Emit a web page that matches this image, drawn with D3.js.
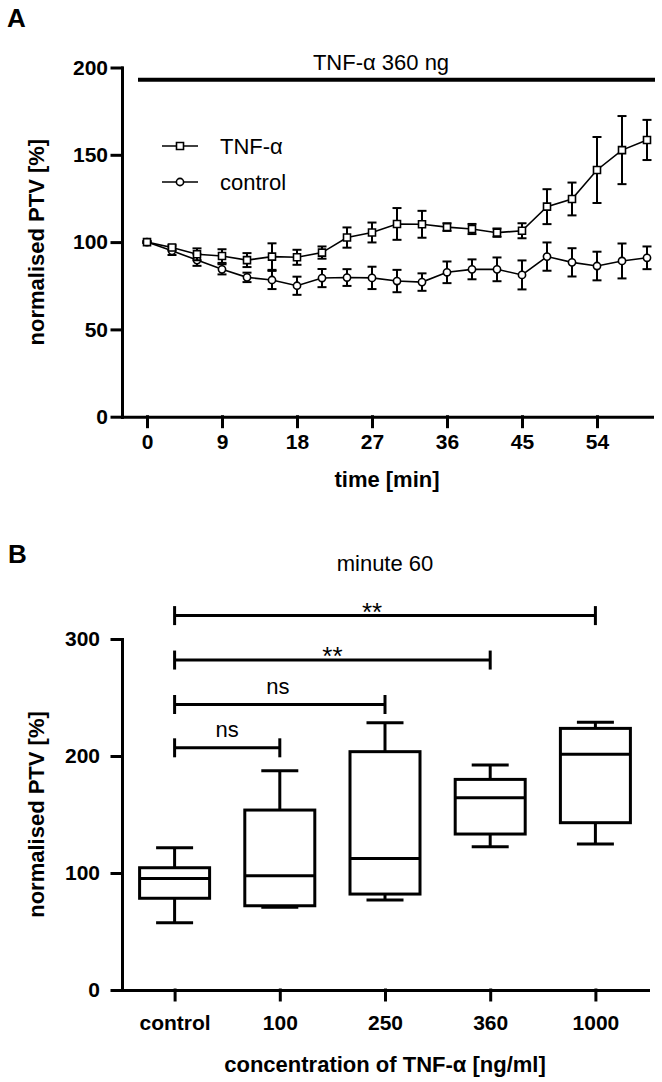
<!DOCTYPE html>
<html>
<head>
<meta charset="utf-8">
<script src="https://cdnjs.cloudflare.com/ajax/libs/d3/7.8.5/d3.min.js"></script>
<style>
body { margin:0; background:#fff; }
svg text { font-family: "Liberation Sans", Arial, Helvetica, sans-serif; fill:#000; }
.axis path, .axis line { stroke:#000; stroke-width:3; stroke-linecap:square; }
.axis text { font-size:21px; font-weight:bold; font-family: "Liberation Sans", Arial, sans-serif; }
</style>
</head>
<body>
<div id="chart"></div>
<script>
// panel A : PTV over time
var minutes = [0, 3, 6, 9, 12, 15, 18, 21, 24, 27, 30, 33, 36, 39, 42, 45, 48, 51, 54, 57, 60];
var tnfMean = [100, 96.9, 93, 92, 89.7, 91.7, 91.3, 94, 102.6, 105.5, 110.4, 110.2, 108.6, 107.5, 105.4, 106.5, 120.3, 124.7, 141.3, 152.7, 158.5];
var tnfErr  = [0.5, 1.5, 3.4, 3.9, 4, 7.6, 4.3, 3.5, 5.8, 5.7, 9.1, 7.7, 2.2, 2.9, 2.4, 4.3, 10, 9.4, 18.9, 19.5, 11.5];
var ctrlMean = [100, 95, 89.7, 84.4, 79.8, 78.3, 75, 79.4, 79.7, 79.5, 77.7, 77.1, 82.7, 84.4, 84.4, 81.2, 91.7, 88.4, 86.3, 89.2, 91];
var ctrlErr  = [0.5, 2.4, 3.3, 2.9, 2.7, 5.2, 5.2, 5.2, 4.8, 6.4, 6.4, 5, 6.2, 5.7, 6.8, 8.3, 8.1, 8.1, 8.2, 10, 6.5];
var timeTicks = [0, 9, 18, 27, 36, 45, 54];
var ptvTicksA = [0, 50, 100, 150, 200];

// panel B : minute 60 box plots
var concCats = ["control", "100", "250", "360", "1000"];
var whiskerLo = [57.5, 70.7, 77, 122.5, 124.8];
var boxQ1     = [78.4, 72, 82, 133.3, 143];
var boxMedian = [95.4, 97.7, 112.5, 164.4, 201.4];
var boxQ3     = [104.5, 153.8, 203.7, 180, 223.6];
var whiskerHi = [121.6, 187.5, 228.5, 192.3, 228.8];
var ptvTicksB = [0, 100, 200, 300];

// significance brackets (control vs ...)
var bracketTo    = ["1000", "360", "250", "100"];
var bracketLevel = [320, 282, 244, 207];
var bracketLabel = ["**", "**", "ns", "ns"];

var width = 662, height = 1082;

var svg = d3.select("#chart")
	.append("svg")
	.attr("width", width)
	.attr("height", height);

// ---------- panel A ----------
var xA = d3.scaleLinear().domain([-3, 60.6]).range([122, 652]);
var yA = d3.scaleLinear().domain([0, 200]).range([416.7, 67.5]);

svg.append("text").attr("x", 7).attr("y", 27)
	.style("font-size", "26px").style("font-weight", "bold").text("A");

svg.append("text").attr("x", 381).attr("y", 70)
	.attr("text-anchor", "middle").style("font-size", "22px").text("TNF-\u03b1 360 ng");

svg.append("line")
	.attr("x1", 138).attr("x2", 655)
	.attr("y1", yA(193)).attr("y2", yA(193))
	.attr("stroke", "black").attr("stroke-width", 4);

svg.append("g").attr("class", "axis")
	.attr("transform", "translate(0," + yA(0) + ")")
	.call(d3.axisBottom(xA).tickValues(timeTicks).tickSize(10).tickSizeOuter(0).tickPadding(7.5));

svg.append("g").attr("class", "axis")
	.attr("transform", "translate(" + xA(-3) + ",0)")
	.call(d3.axisLeft(yA).tickValues(ptvTicksA).tickSize(10).tickSizeOuter(0).tickPadding(4));

svg.append("text").attr("x", 387).attr("y", 487)
	.attr("text-anchor", "middle").style("font-size", "22px").style("font-weight", "bold")
	.text("time [min]");

svg.append("text")
	.attr("transform", "translate(44," + (yA(0) + yA(200)) / 2 + ") rotate(-90)")
	.attr("text-anchor", "middle").style("font-size", "22px").style("font-weight", "bold")
	.text("normalised PTV [%]");

function drawSeries(means, errs, shape) {
	var g = svg.append("g");
	var pts = minutes.map(function (m, i) { return {t: m, v: means[i], e: errs[i]}; });

	g.append("path")
		.datum(pts)
		.attr("fill", "none").attr("stroke", "black").attr("stroke-width", 1.6)
		.attr("d", d3.line().x(function (d) { return xA(d.t); }).y(function (d) { return yA(d.v); }));

	var eb = g.selectAll(".eb").data(pts).enter().append("g")
		.attr("stroke", "black").attr("stroke-width", 2);
	eb.append("line")
		.attr("x1", function (d) { return xA(d.t); }).attr("x2", function (d) { return xA(d.t); })
		.attr("y1", function (d) { return yA(d.v + d.e); }).attr("y2", function (d) { return yA(d.v - d.e); });
	eb.append("line")
		.attr("x1", function (d) { return xA(d.t) - 4.5; }).attr("x2", function (d) { return xA(d.t) + 4.5; })
		.attr("y1", function (d) { return yA(d.v + d.e); }).attr("y2", function (d) { return yA(d.v + d.e); });
	eb.append("line")
		.attr("x1", function (d) { return xA(d.t) - 4.5; }).attr("x2", function (d) { return xA(d.t) + 4.5; })
		.attr("y1", function (d) { return yA(d.v - d.e); }).attr("y2", function (d) { return yA(d.v - d.e); });

	g.selectAll(".mk").data(pts).enter()
		.append("path")
		.attr("transform", function (d) { return "translate(" + xA(d.t) + "," + yA(d.v) + ")"; })
		.attr("d", marker(shape))
		.attr("fill", "white").attr("stroke", "black").attr("stroke-width", 1.6);
}

function marker(shape) {
	if (shape == "square") return "M-3.5,-3.5H3.5V3.5H-3.5Z";
	return "M-3.6,0A3.6,3.6 0 1,0 3.6,0A3.6,3.6 0 1,0 -3.6,0Z";
}

drawSeries(ctrlMean, ctrlErr, "circle");
drawSeries(tnfMean, tnfErr, "square");

// legend
var legend = [{name: "TNF-\u03b1", shape: "square", y: 146}, {name: "control", shape: "circle", y: 182}];
legend.forEach(function (l) {
	svg.append("line").attr("x1", 162).attr("x2", 198).attr("y1", l.y).attr("y2", l.y)
		.attr("stroke", "black").attr("stroke-width", 1.6);
	svg.append("path").attr("transform", "translate(180," + l.y + ")")
		.attr("d", marker(l.shape)).attr("fill", "white").attr("stroke", "black").attr("stroke-width", 1.6);
	svg.append("text").attr("x", 220).attr("y", l.y + 8).style("font-size", "22px").text(l.name);
});

// ---------- panel B ----------
var xB = d3.scalePoint().domain(concCats).range([122, 648]).padding(0.5);
var yB = d3.scaleLinear().domain([0, 300]).range([990, 639]);

svg.append("text").attr("x", 8).attr("y", 563)
	.style("font-size", "26px").style("font-weight", "bold").text("B");

svg.append("text").attr("x", 385).attr("y", 571)
	.attr("text-anchor", "middle").style("font-size", "22px").text("minute 60");

svg.append("g").attr("class", "axis")
	.attr("transform", "translate(0," + yB(0) + ")")
	.call(d3.axisBottom(xB).tickSize(10).tickSizeOuter(0).tickPadding(15));

svg.append("g").attr("class", "axis")
	.attr("transform", "translate(122,0)")
	.call(d3.axisLeft(yB).tickValues(ptvTicksB).tickSize(10).tickSizeOuter(0).tickPadding(12));

svg.append("text").attr("x", 385).attr("y", 1072)
	.attr("text-anchor", "middle").style("font-size", "22px").style("font-weight", "bold")
	.text("concentration of TNF-\u03b1 [ng/ml]");

svg.append("text")
	.attr("transform", "translate(44," + (yB(0) + yB(300)) / 2 + ") rotate(-90)")
	.attr("text-anchor", "middle").style("font-size", "22px").style("font-weight", "bold")
	.text("normalised PTV [%]");

var boxes = concCats.map(function (c, i) {
	return {cat: c, lo: whiskerLo[i], q1: boxQ1[i], med: boxMedian[i], q3: boxQ3[i], hi: whiskerHi[i]};
});

var boxW = 70, capW = 37;
var bx = svg.selectAll(".box").data(boxes).enter().append("g")
	.attr("class", "box")
	.attr("stroke", "black").attr("stroke-width", 3).attr("fill", "none");

bx.append("line")
	.attr("x1", function (d) { return xB(d.cat); }).attr("x2", function (d) { return xB(d.cat); })
	.attr("y1", function (d) { return yB(d.hi); }).attr("y2", function (d) { return yB(d.q3); });
bx.append("line")
	.attr("x1", function (d) { return xB(d.cat); }).attr("x2", function (d) { return xB(d.cat); })
	.attr("y1", function (d) { return yB(d.q1); }).attr("y2", function (d) { return yB(d.lo); });
bx.append("line")
	.attr("x1", function (d) { return xB(d.cat) - capW / 2; }).attr("x2", function (d) { return xB(d.cat) + capW / 2; })
	.attr("y1", function (d) { return yB(d.hi); }).attr("y2", function (d) { return yB(d.hi); });
bx.append("line")
	.attr("x1", function (d) { return xB(d.cat) - capW / 2; }).attr("x2", function (d) { return xB(d.cat) + capW / 2; })
	.attr("y1", function (d) { return yB(d.lo); }).attr("y2", function (d) { return yB(d.lo); });
bx.append("rect")
	.attr("x", function (d) { return xB(d.cat) - boxW / 2; })
	.attr("width", boxW)
	.attr("y", function (d) { return yB(d.q3); })
	.attr("height", function (d) { return yB(d.q1) - yB(d.q3); })
	.attr("fill", "white");
bx.append("line")
	.attr("x1", function (d) { return xB(d.cat) - boxW / 2; }).attr("x2", function (d) { return xB(d.cat) + boxW / 2; })
	.attr("y1", function (d) { return yB(d.med); }).attr("y2", function (d) { return yB(d.med); });

// brackets
var nudge = [-13, 0, -2, 0];
bracketTo.forEach(function (c, i) {
	var x0 = xB("control"), x1 = xB(c), y = yB(bracketLevel[i]);
	var g = svg.append("g").attr("stroke", "black").attr("stroke-width", 3);
	g.append("line").attr("x1", x0).attr("x2", x1).attr("y1", y).attr("y2", y);
	g.append("line").attr("x1", x0).attr("x2", x0).attr("y1", y - 9.5).attr("y2", y + 9.5);
	g.append("line").attr("x1", x1).attr("x2", x1).attr("y1", y - 9.5).attr("y2", y + 9.5);
	var star = bracketLabel[i] == "**";
	svg.append("text")
		.attr("x", (x0 + x1) / 2 + nudge[i])
		.attr("y", star ? y + 5 : y - 11)
		.attr("text-anchor", "middle")
		.style("font-size", star ? "26px" : "22px")
		.text(bracketLabel[i]);
});
</script>
</body>
</html>
